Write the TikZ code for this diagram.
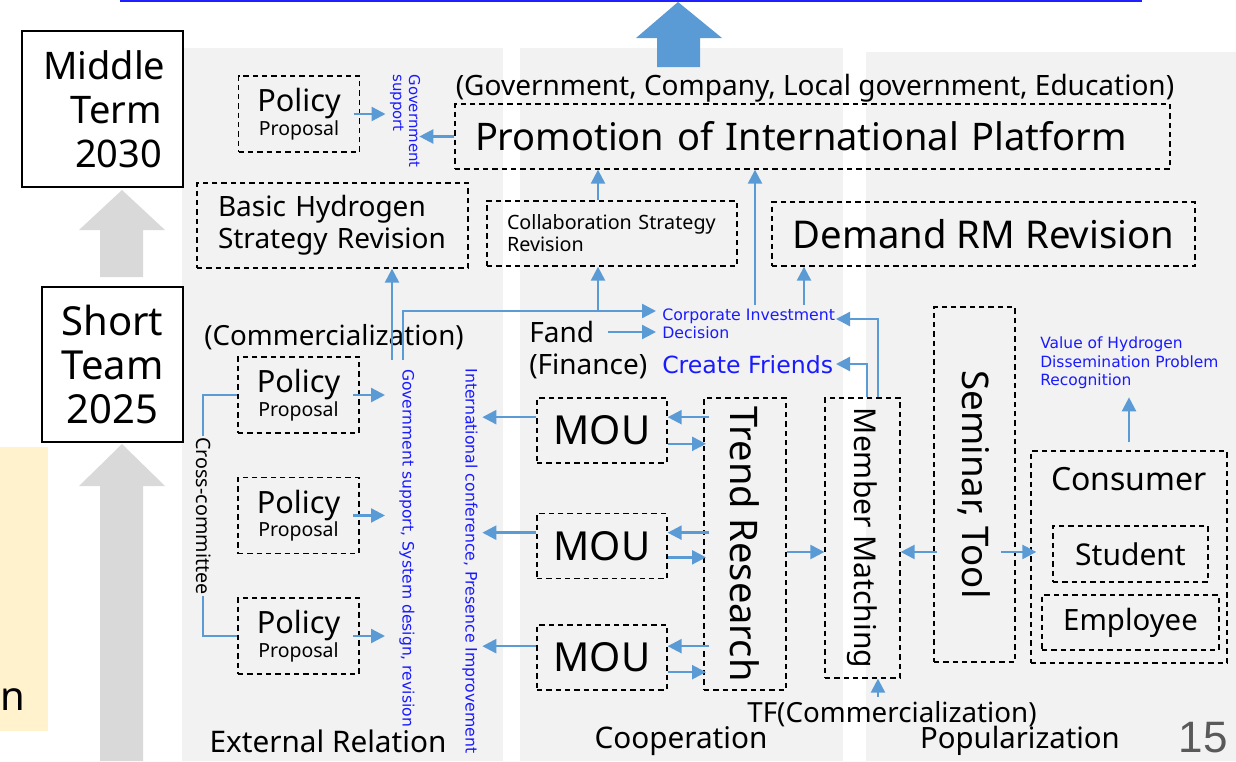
\documentclass[tikz,border=0pt]{standalone}
\usepackage{fontspec}
\setmainfont{Noto Sans}
\newfontfamily\dejavu{DejaVu Sans}
\newfontfamily\arialfont{Liberation Sans}
\usetikzlibrary{arrows.meta}
\definecolor{arrowblue}{HTML}{5B9BD5}
\definecolor{textblue}{HTML}{1A1AFF}
\definecolor{topblue}{HTML}{2020FF}
\definecolor{panelgray}{HTML}{F2F2F2}
\definecolor{arrowgray}{HTML}{D9D9D9}
\definecolor{noteyellow}{HTML}{FFF2CC}
\definecolor{pagegray}{HTML}{595959}
\newcommand\fsz[2]{\fontsize{#1pt}{#2pt}\selectfont}

\begin{document}
\begin{tikzpicture}[x=0.75pt,y=-0.75pt,
    dbox/.style={draw=black, line width=1pt, dash pattern=on 4pt off 3pt, inner sep=0pt},
    sbox/.style={draw=black, line width=1pt, fill=white, inner sep=0pt},
    barrow/.style={draw=arrowblue, line width=1.8pt, -{Triangle[length=10.5pt,width=10.5pt]}},
    bline/.style={draw=arrowblue, line width=1.3pt},
    btxt/.style={text=textblue, inner sep=0pt}]
    \useasboundingbox (0,0) rectangle (1236,761);

    % background panels
    \fill[panelgray] (182,48) rectangle (503,761);
    \fill[panelgray] (520,48) rectangle (843,761);
    \fill[panelgray] (866,52) rectangle (1236,761);
    \fill[noteyellow] (0,447) rectangle (48,731);
    \node[anchor=west, inner sep=0pt, font=\fsz{30}{33}] (notetxt) at (0,700) {n};

    % top line and block arrows
    \draw[topblue, line width=1.5pt] (120,1) -- (1142,1);
    \fill[arrowblue] (657,67) -- (657,38) -- (636,38) -- (678,2) -- (722,38) -- (700,38) -- (700,67) -- cycle;
    \fill[arrowgray] (100,277) -- (100,230) -- (79,230) -- (122,190) -- (165,230) -- (143,230) -- (143,277) -- cycle;
    \fill[arrowgray] (100,761) -- (100,486) -- (79,486) -- (122,444) -- (165,486) -- (143,486) -- (143,761) -- cycle;

    % term boxes
    \node[sbox, minimum height=117pt, text width=89.25pt, inner xsep=15.75pt, align=right, font=\fsz{28.5}{33}] (midterm) at (102.5,109) {Middle\\Term\\2030};
    \node[sbox, minimum width=105.75pt, minimum height=116.25pt, align=center, font=\fsz{30}{33}] (shortterm) at (112.5,364.5) {Short\\Team\\2025};

    % upper row
    \node[font=\fsz{21}{24}] (govlist) at (815,88) {(Government, Company, Local government, Education)};
    \node[dbox, minimum height=48.75pt, text width=506.25pt, inner xsep=15pt, align=left, font=\fsz{28.5}{30}] (promo) at (812.5,136.5) {Promotion of International Platform};
    \node[dbox, minimum width=90.75pt, minimum height=57pt, align=center] (pol0) at (299,114) {\fsz{23}{24}Policy\\\fsz{14.6}{19}Proposal};
    \node[btxt, rotate=-90, align=left, font=\dejavu\fsz{11.2}{12}] (govsup) at (405,121) {Government\\support};
    \node[dbox, minimum height=63.75pt, text width=171.75pt, inner xsep=15.75pt, align=left, font=\fsz{21}{24}] (basic) at (332.5,225.5) {Basic Hydrogen\\Strategy Revision};
    \node[dbox, minimum height=48.75pt, text width=157.5pt, inner xsep=15pt, align=left, font=\fsz{14.8}{16.5}] (collab) at (612,233.5) {Collaboration Strategy\\Revision};
    \node[dbox, minimum width=317.25pt, minimum height=48pt, font=\fsz{28.7}{30}] (demand) at (983.5,234) {Demand RM Revision};

    % external relation
    \node[font=\fsz{20.8}{24}] (comm) at (334,337) {(Commercialization)};
    \node[dbox, minimum width=90.75pt, minimum height=57pt, align=center] (pol1) at (298.5,395) {\fsz{23}{24}Policy\\\fsz{14.6}{19}Proposal};
    \node[dbox, minimum width=90.75pt, minimum height=57pt, align=center] (pol2) at (298.5,515.5) {\fsz{23}{24}Policy\\\fsz{14.6}{19}Proposal};
    \node[dbox, minimum width=90.75pt, minimum height=57pt, align=center] (pol3) at (298.5,636) {\fsz{23}{24}Policy\\\fsz{14.6}{19}Proposal};
    \draw[bline] (pol1.west) -- ++(-34,0) |- (pol3.west);
    \node[rotate=-90, fill=panelgray, inner sep=1pt, font=\fsz{14.8}{16}] (cross) at (204,516) {Cross-committee};
    \node[btxt, rotate=-90, font=\dejavu\fsz{11.7}{13}] (govsys) at (407,548) {Government support, System design, revision};
    \node[btxt, rotate=-90, font=\dejavu\fsz{11.8}{13}] (intconf) at (470,561) {International conference, Presence Improvement};

    % cooperation
    \node[anchor=west, align=left, inner sep=0pt, font=\fsz{21}{24}] (fand) at (529,350) {Fand\\(Finance)};
    \node[btxt, anchor=west, align=left, font=\dejavu\fsz{11.8}{13.5}] (corp) at (662,324) {Corporate Investment\\Decision};
    \node[btxt, anchor=west, font=\dejavu\fsz{17.7}{19}] (friends) at (662,365) {Create Friends};
    \node[dbox, minimum width=97.5pt, minimum height=48.75pt, font=\fsz{30}{33}] (mou1) at (602,430.5) {MOU};
    \node[dbox, minimum width=97.5pt, minimum height=48.75pt, font=\fsz{30}{33}] (mou2) at (602,546) {MOU};
    \node[dbox, minimum width=97.5pt, minimum height=48.75pt, font=\fsz{30}{33}] (mou3) at (602,657.5) {MOU};
    \node[dbox, minimum width=61.5pt, minimum height=219pt] (trend) at (745,544) {};
    \node[rotate=-90, font=\fsz{28.5}{30}] (trendtxt) at (trend.center) {Trend Research};
    \node[dbox, minimum width=56.25pt, minimum height=210pt] (member) at (862.5,538) {};
    \node[rotate=-90, font=\fsz{22.5}{26}] (membertxt) at (member.center) {Member Matching};

    % popularization
    \node[dbox, minimum width=60.75pt, minimum height=266.25pt] (seminar) at (974.5,484.5) {};
    \node[rotate=-90, font=\fsz{27.5}{28}] (seminartxt) at (seminar.center) {Seminar, Tool};
    \node[dbox, minimum width=147pt, minimum height=159pt] (cons) at (1129,557) {};
    \node[font=\fsz{24}{26}] (constxt) at (1129,479) {Consumer};
    \node[dbox, minimum width=116.25pt, minimum height=42pt, font=\fsz{22.5}{25}] (student) at (1130.5,554) {Student};
    \node[dbox, minimum width=132.75pt, minimum height=41.25pt, font=\fsz{22}{25}] (employee) at (1130.5,622.5) {Employee};
    \node[btxt, anchor=west, align=left, font=\dejavu\fsz{11.6}{14}] (value) at (1040,363) {Value of Hydrogen\\Dissemination Problem\\Recognition};
    \node[font=\fsz{20.8}{24}] (tf) at (892,714) {TF(Commercialization)};

    % column titles
    \node[font=\fsz{22.3}{24}] (ext) at (328,741) {External Relation};
    \node[font=\fsz{22.3}{24}] (coop) at (681,741) {Cooperation};
    \node[font=\fsz{22}{24}] (popu) at (1020,741) {Popularization};
    \node[text=pagegray, font=\arialfont\fsz{33}{36}] (page) at (1203,738) {15};

    % free ends
    \coordinate (gs1) at (392,360);
    \coordinate (gs2) at (403,360);
    \coordinate (cs) at (598,311);
    \coordinate (ci) at (656,311);
    \coordinate (fa) at (608,332);
    \coordinate (c1) at (755,305);
    \coordinate (c2) at (804,305);
    \coordinate (ce) at (836,319);
    \coordinate (cf) at (836,364);

    % arrows
    \draw[barrow] ([xshift=-5pt]pol0.east) -- ++(32,0);
    \draw[barrow] (promo.west) -- ++(-35,0);
    \draw[barrow] ([xshift=-10.5pt]collab.north) -- ([xshift=-10.5pt]collab.north |- promo.south);
    \draw[barrow] (gs1) -- (gs1 |- basic.south);
    \draw[barrow] (gs2) |- (ci);
    \draw[barrow] (cs) -- (cs |- collab.south);
    \draw[barrow] (fa) -- (fa -| ci);
    \draw[barrow] (c1) -- (c1 |- promo.south);
    \draw[barrow] (c2) -- (c2 |- demand.south);
    \draw[barrow] ([xshift=11.6pt]member.north) |- (ce);
    \draw[barrow] ([xshift=3.4pt]member.north) |- (cf);
    \draw[barrow] ([xshift=-5pt]pol1.east) -- ++(32,0);
    \draw[barrow] ([xshift=-5pt]pol2.east) -- ++(32,0);
    \draw[barrow] ([xshift=-5pt]pol3.east) -- ++(32,0);
    \draw[barrow] ([yshift=10pt]mou1.west) -- ++(-54,0);
    \draw[barrow] ([yshift=10pt]mou2.west) -- ++(-54,0);
    \draw[barrow] ([yshift=8.5pt]mou3.west) -- ++(-54,0);
    \draw[barrow] ([xshift=4.5pt,yshift=10pt]mou1.east -| trend.west) -- ([yshift=10pt]mou1.east);
    \draw[barrow] ([yshift=-10pt]mou1.east) -- ([xshift=2pt,yshift=-10pt]mou1.east -| trend.west);
    \draw[barrow] ([xshift=4.5pt,yshift=10pt]mou2.east -| trend.west) -- ([yshift=10pt]mou2.east);
    \draw[barrow] ([yshift=-8.5pt]mou2.east) -- ([xshift=2pt,yshift=-8.5pt]mou2.east -| trend.west);
    \draw[barrow] ([xshift=4.5pt,yshift=8.5pt]mou3.east -| trend.west) -- ([yshift=8.5pt]mou3.east);
    \draw[barrow] ([yshift=-11pt]mou3.east) -- ([xshift=2pt,yshift=-11pt]mou3.east -| trend.west);
    \draw[barrow] ([yshift=-6pt]trend.east) -- ([yshift=-6pt]trend.east -| member.west);
    \draw[barrow] ([xshift=3pt,yshift=-50.6pt]seminar.west) -- ([yshift=-50.6pt]seminar.west -| member.east);
    \draw[barrow] ([xshift=-11pt,yshift=-50.6pt]seminar.east) -- ([xshift=4.5pt,yshift=-50.6pt]seminar.east -| cons.west);
    \draw[barrow] ([yshift=6pt]cons.north) -- ++(0,-45);
    \draw[barrow] ([xshift=11.6pt]member.south |- tf.north) -- ([xshift=11.6pt]member.south);
\end{tikzpicture}
\end{document}
